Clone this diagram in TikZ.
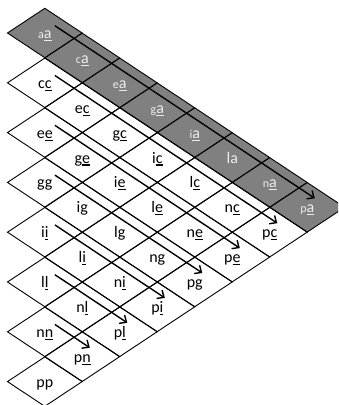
\documentclass[tikz,border=0pt]{standalone}
\usepackage{fontspec}
\setmainfont{Carlito}
\usetikzlibrary{arrows.meta,shapes.geometric,calc}
\definecolor{cellgray}{RGB}{128,128,128}
\definecolor{lighttext}{RGB}{236,236,236}
\newcommand\ulx[1]{\setbox0\hbox{#1}\rlap{\rule[-2.5pt]{\wd0}{1.1pt}}\box0}
\newcommand\sfl[1]{{\fontsize{12}{14}\selectfont #1}}
\begin{document}
\begin{tikzpicture}[x=1pt,y=-1pt,
  cellbox/.style={draw=black, line width=0.9pt, shape=diamond, minimum width=75pt, minimum height=49.8pt, inner sep=0pt},
  graycell/.style={cellbox, fill=cellgray},
  lab/.style={anchor=base, inner sep=0pt, font=\fontsize{16}{19}\selectfont},
  glab/.style={lab, text=lighttext},
  arr/.style={line width=1.4pt, -{Straight Barb[length=5.5pt,width=10pt]}}]
\useasboundingbox (0,0) rectangle (338,405);
\clip (0,0) rectangle (338,405);
% gray diagonal
\foreach \i in {0,...,7} {
  \node[graycell] (c\i0) at ({44.8+\i*37.5},{33+\i*24.9}) {};
}
% white cells
\foreach \i in {1,...,7} {
  \foreach \j in {1,...,\i} {
    \node[cellbox] (c\i\j) at ({44.8+(\i-\j)*37.5},{33+(\i+\j)*24.9}) {};
  }
}
% gray labels
\node[glab] (t00) at ([yshift=-5.5pt]c00.center) {\sfl{a}\ulx{a}};
\node[glab] (t10) at ([yshift=-5.5pt]c10.center) {\sfl{c}\ulx{a}};
\node[glab] (t20) at ([yshift=-5.5pt]c20.center) {\sfl{e}\ulx{a}};
\node[glab] (t30) at ([yshift=-5.5pt]c30.center) {\sfl{g}\ulx{a}};
\node[glab] (t40) at ([yshift=-5.5pt]c40.center) {\sfl{i}\ulx{a}};
\node[glab] (t50) at ([yshift=-5.5pt]c50.center) {la};
\node[glab] (t60) at ([yshift=-5.5pt]c60.center) {\sfl{n}\ulx{a}};
\node[glab] (t70) at ([yshift=-5.5pt]c70.center) {\sfl{p}\ulx{a}};
% c diagonal
\node[lab] (t11) at ([yshift=-5.5pt]c11.center) {c\ulx{c}};
\node[lab] (t21) at ([yshift=-5.5pt]c21.center) {e\ulx{c}};
\node[lab] (t31) at ([yshift=-5.5pt]c31.center) {g\ulx{c}};
\node[lab] (t41) at ([yshift=-5.5pt]c41.center) {i\ulx{c}};
\node[lab] (t51) at ([yshift=-5.5pt]c51.center) {l\ulx{c}};
\node[lab] (t61) at ([yshift=-5.5pt]c61.center) {n\ulx{c}};
\node[lab] (t71) at ([yshift=-5.5pt]c71.center) {p\ulx{c}};
% e diagonal
\node[lab] (t22) at ([yshift=-5.5pt]c22.center) {e\ulx{e}};
\node[lab] (t32) at ([yshift=-5.5pt]c32.center) {g\ulx{e}};
\node[lab] (t42) at ([yshift=-5.5pt]c42.center) {i\ulx{e}};
\node[lab] (t52) at ([yshift=-5.5pt]c52.center) {l\ulx{e}};
\node[lab] (t62) at ([yshift=-5.5pt]c62.center) {n\ulx{e}};
\node[lab] (t72) at ([yshift=-5.5pt]c72.center) {p\ulx{e}};
% g diagonal
\node[lab] (t33) at ([yshift=-5.5pt]c33.center) {gg};
\node[lab] (t43) at ([yshift=-5.5pt]c43.center) {ig};
\node[lab] (t53) at ([yshift=-5.5pt]c53.center) {lg};
\node[lab] (t63) at ([yshift=-5.5pt]c63.center) {ng};
\node[lab] (t73) at ([yshift=-5.5pt]c73.center) {pg};
% i diagonal
\node[lab] (t44) at ([yshift=-5.5pt]c44.center) {i\ulx{i}};
\node[lab] (t54) at ([yshift=-5.5pt]c54.center) {l\ulx{i}};
\node[lab] (t64) at ([yshift=-5.5pt]c64.center) {n\ulx{i}};
\node[lab] (t74) at ([yshift=-5.5pt]c74.center) {p\ulx{i}};
% l diagonal
\node[lab] (t55) at ([yshift=-5.5pt]c55.center) {l\ulx{l}};
\node[lab] (t65) at ([yshift=-5.5pt]c65.center) {n\ulx{l}};
\node[lab] (t75) at ([yshift=-5.5pt]c75.center) {p\ulx{l}};
% n diagonal
\node[lab] (t66) at ([yshift=-5.5pt]c66.center) {n\ulx{n}};
\node[lab] (t76) at ([yshift=-5.5pt]c76.center) {p\ulx{n}};
% p
\node[lab] (t77) at ([yshift=-5.5pt]c77.center) {pp};
% arrows along diagonals
\foreach \j in {0,...,6} {
  \coordinate (s\j) at ($(c\j\j.center)+(10.1,-7.3)$);
  \coordinate (e\j) at ($(c7\j.center)+(7.5,-9)$);
  \draw[arr] (s\j) -- (e\j);
}
\end{tikzpicture}
\end{document}
